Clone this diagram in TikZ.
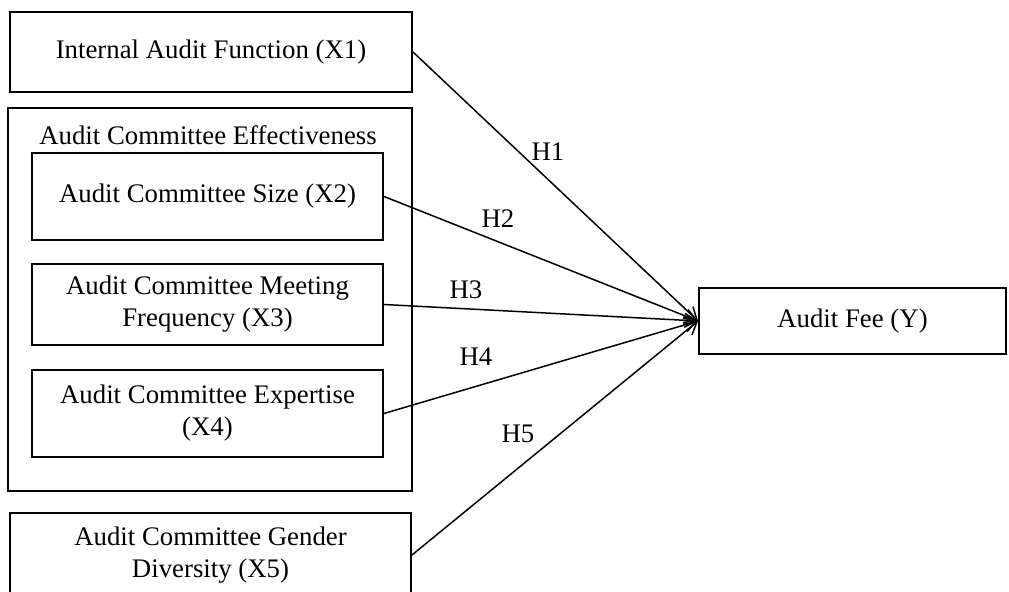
\documentclass[tikz,border=0pt]{standalone}
\usepackage{fontspec}
\setmainfont{Liberation Serif}
\usetikzlibrary{arrows.meta}
\usetikzlibrary{positioning}
\tikzset{>={Straight Barb[length=6pt,width=7pt]}}
\tikzset{varbox/.style={draw, line width=1pt, align=center, inner sep=0pt}}

\begin{document}
\begin{tikzpicture}[x=0.5pt, y=-0.5pt, font=\fontsize{13.4}{16}\selectfont]
            \useasboundingbox (0,0) rectangle (1009,592);
            % independent variables
            \node [varbox, minimum width=201pt, minimum height=40pt] (X1) at (211,52) {Internal Audit Function (X1)};
            \node [varbox, minimum width=202pt, minimum height=191.5pt] (ACE) at (210,299.5) {};
            \node (ACElabel) at (208,135) {Audit Committee Effectiveness};
            \node [varbox, minimum width=175.5pt, minimum height=43.5pt] (X2) at (207.5,196.5) {Audit Committee Size (X2)};
            \node [varbox, minimum width=175.5pt, minimum height=40.5pt] (X3) at (207.5,304.5) {Audit Committee Meeting\\Frequency (X3)};
            \node [varbox, minimum width=175.5pt, minimum height=43.5pt] (X4) at (207.5,413.5) {Audit Committee Expertise\\(X4)};
            \node [varbox, minimum width=200.5pt, minimum height=42pt] (X5) at (210.5,555) {Audit Committee Gender\\Diversity (X5)};
            % dependent variable
            \node [varbox, minimum width=153.5pt, minimum height=33pt] (Y) at (852.5,321) {Audit Fee (Y)};
            % hypotheses
            \foreach \src in {X1,X2,X3,X4,X5}
                \draw [->, line width=0.75pt] (\src.east)--(Y.west);
            \node (H1) at (548,152) {H1};
            \node (H2) at (498,219) {H2};
            \node (H3) at (466,290) {H3};
            \node (H4) at (476,357) {H4};
            \node (H5) at (518,434) {H5};
        \end{tikzpicture}
\end{document}
